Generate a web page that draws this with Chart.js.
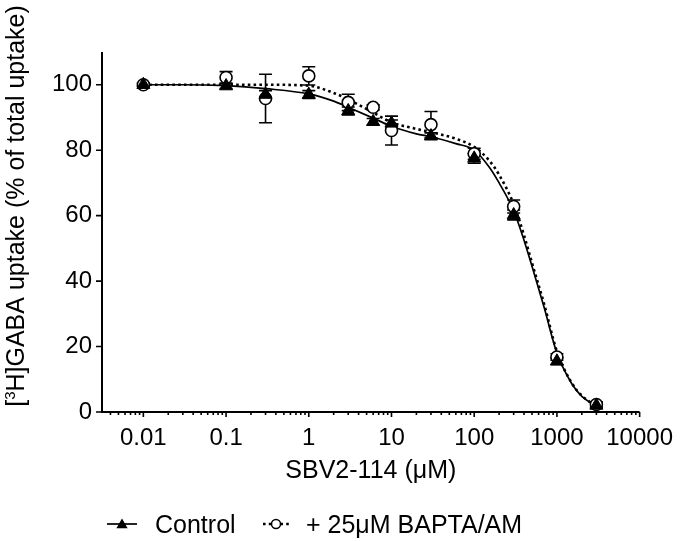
<!DOCTYPE html>
<html>
<head>
<meta charset="utf-8">
<script src="https://cdn.jsdelivr.net/npm/chart.js@4/dist/chart.umd.min.js"></script>
<style>
html,body{margin:0;padding:0;background:#fff;}
#c{display:block;}
</style>
</head>
<body>
<canvas id="c" width="685" height="541"></canvas>
<script>
// ---- data ----
const concentrations = [0.01, 0.1, 0.3, 1, 3, 6, 10, 30, 100, 300, 1000, 3000];
const controlMean = [100, 99.6, 97, 97, 92, 88.7, 88.2, 84.3, 77.5, 60.2, 15.5, 2];
const controlSem  = [0.5, 0.8, 1.2, 1.2, 1.2, 1, 1, 1, 1.5, 1.5, 1, 0.8];
const baptaMean = [100, 102.2, 95.8, 102.7, 94.6, 93.1, 86, 87.8, 78.9, 62.8, 16.8, 2.3];
const baptaSem  = [0.5, 1.8, 7.4, 2.8, 2.5, 0.8, 4.4, 4, 1.7, 2, 1, 0.8];

// fitted curves
const fitX       = [0.01, 0.03, 0.1, 0.3, 1, 2, 3, 6, 10, 20, 30, 60, 100, 150, 200, 300, 400, 500, 700, 1000, 1500, 2000, 3000];
const controlFit = [100, 100, 99.7, 98.8, 97.2, 95, 93.1, 89.8, 87.3, 85, 84.1, 82, 80, 75, 70, 61.5, 52.5, 44.5, 32, 18, 8.8, 4.8, 1.8];
const baptaFit   = [100, 100, 100, 100, 99.7, 97.5, 95.5, 91.5, 88.5, 86.5, 85.5, 83.5, 81, 77, 72.5, 63.5, 54, 45.5, 33, 18.5, 9, 5, 1.8];

const xTicks = [0.01, 0.1, 1, 10, 100, 1000, 10000];
const xTickLabels = ['0.01', '0.1', '1', '10', '100', '1000', '10000'];
const yTicks = [0, 20, 40, 60, 80, 100];
const yTickLabels = ['0', '20', '40', '60', '80', '100'];

const seriesNames = ['Control', '+ 25\u03BCM BAPTA/AM'];
const xTitle = 'SBV2-114 (\u03BCM)';
const yTitleParts = ['[', '3', 'H]GABA uptake (% of total uptake)'];

// ---- styling ----
const FONT = "'Liberation Sans', Arial, Helvetica, sans-serif";
Chart.defaults.font.family = FONT;
Chart.defaults.color = '#000';

const pts = (xs, ys) => xs.map((x, i) => ({x: x, y: ys[i]}));

const customPlugin = {
  id: 'custom',
  beforeDatasetsDraw(chart) {
    const ctx = chart.ctx, xs = chart.scales.x, ys = chart.scales.y;
    ctx.save();
    ctx.strokeStyle = '#000';
    ctx.lineWidth = 1.6;
    const series = [[baptaMean, baptaSem], [controlMean, controlSem]];
    series.forEach(([m, s]) => {
      concentrations.forEach((c, i) => {
        const px = xs.getPixelForValue(c);
        const top = ys.getPixelForValue(m[i] + s[i]);
        const bot = ys.getPixelForValue(Math.max(0, m[i] - s[i]));
        ctx.beginPath();
        ctx.moveTo(px, top); ctx.lineTo(px, bot);
        ctx.moveTo(px - 6.5, top); ctx.lineTo(px + 6.5, top);
        ctx.moveTo(px - 6.5, bot); ctx.lineTo(px + 6.5, bot);
        ctx.stroke();
      });
    });
    ctx.restore();
  },
  afterDraw(chart) {
    const ctx = chart.ctx, xs = chart.scales.x, ys = chart.scales.y;
    const a = chart.chartArea;
    ctx.save();
    ctx.strokeStyle = '#000';
    ctx.fillStyle = '#000';
    // axes
    ctx.lineWidth = 2;
    ctx.beginPath();
    ctx.moveTo(a.left, a.top); ctx.lineTo(a.left, a.bottom + 1);
    ctx.moveTo(a.left - 1, a.bottom); ctx.lineTo(a.right, a.bottom);
    ctx.stroke();
    // y ticks
    ctx.lineWidth = 1.6;
    ctx.beginPath();
    yTicks.forEach(v => {
      const py = ys.getPixelForValue(v);
      ctx.moveTo(a.left - 6, py); ctx.lineTo(a.left, py);
    });
    ctx.stroke();
    // x ticks (major + minor)
    ctx.beginPath();
    for (let e = -3; e <= 4; e++) {
      for (let k = 1; k <= 9; k++) {
        const v = k * Math.pow(10, e);
        if (v < xs.min * 0.9999 || v > xs.max * 1.0001) continue;
        const px = xs.getPixelForValue(v);
        const len = k === 1 ? 5 : 3;
        ctx.moveTo(px, a.bottom); ctx.lineTo(px, a.bottom + len);
      }
    }
    ctx.stroke();

    // x title
    ctx.font = '25px ' + FONT;
    ctx.textAlign = 'center';
    ctx.textBaseline = 'alphabetic';
    ctx.fillText(xTitle, (a.left + a.right) / 2, 478);

    // y title with superscript
    ctx.save();
    ctx.translate(24, 206);
    ctx.rotate(-Math.PI / 2);
    ctx.textAlign = 'left';
    const big = '25px ' + FONT, small = '15px ' + FONT;
    ctx.font = big; const w0 = ctx.measureText(yTitleParts[0]).width;
    ctx.font = small; const w1 = ctx.measureText(yTitleParts[1]).width;
    ctx.font = big; const w2 = ctx.measureText(yTitleParts[2]).width;
    let x0 = -(w0 + w1 + w2) / 2;
    ctx.font = big; ctx.fillText(yTitleParts[0], x0, 0);
    ctx.font = small; ctx.fillText(yTitleParts[1], x0 + w0, -9);
    ctx.font = big; ctx.fillText(yTitleParts[2], x0 + w0 + w1, 0);
    ctx.restore();

    // legend
    const ly = 524;
    ctx.lineWidth = 1.7;
    ctx.beginPath(); ctx.moveTo(107, ly); ctx.lineTo(137, ly); ctx.stroke();
    const r = 6.5, tx = 122, ty = ly + 1;
    ctx.beginPath();
    ctx.moveTo(tx, ty - r);
    ctx.lineTo(tx + r * Math.sin(2 * Math.PI / 3), ty - r * Math.cos(2 * Math.PI / 3));
    ctx.lineTo(tx + r * Math.sin(4 * Math.PI / 3), ty - r * Math.cos(4 * Math.PI / 3));
    ctx.closePath(); ctx.fill();
    ctx.font = '25px ' + FONT;
    ctx.textAlign = 'left';
    ctx.fillText(seriesNames[0], 155, 533);
    ctx.save();
    ctx.lineWidth = 2.6; ctx.setLineDash([2.6, 3.2]);
    ctx.beginPath(); ctx.moveTo(263, ly); ctx.lineTo(289, ly); ctx.stroke();
    ctx.restore();
    ctx.beginPath(); ctx.arc(276, ly, 4.5, 0, Math.PI * 2);
    ctx.fillStyle = '#fff'; ctx.fill();
    ctx.lineWidth = 1.5; ctx.stroke();
    ctx.fillStyle = '#000';
    ctx.fillText(seriesNames[1], 306, 533);
    ctx.restore();
  }
};

new Chart(document.getElementById('c'), {
  type: 'scatter',
  data: {
    datasets: [
      {label: seriesNames[0], data: pts(concentrations, controlMean), pointStyle: 'triangle', pointRadius: 7.5,
       backgroundColor: '#000', borderColor: '#000', pointBorderWidth: 1, showLine: false, order: 0},
      {label: seriesNames[1], data: pts(concentrations, baptaMean), pointStyle: 'circle', pointRadius: 6,
       backgroundColor: '#fff', borderColor: '#000', pointBorderWidth: 1.6, showLine: false, order: 1},
      {label: 'Control fit', data: pts(fitX, controlFit), showLine: true, pointRadius: 0, borderColor: '#000',
       borderWidth: 1.7, cubicInterpolationMode: 'monotone', order: 2},
      {label: 'BAPTA fit', data: pts(fitX, baptaFit), showLine: true, pointRadius: 0, borderColor: '#000',
       borderWidth: 2.6, borderDash: [2.6, 3.2], cubicInterpolationMode: 'monotone', order: 3}
    ]
  },
  options: {
    responsive: false,
    devicePixelRatio: 1,
    animation: false,
    layout: {padding: {top: 52, right: 37, left: 0, bottom: 0}},
    plugins: {legend: {display: false}, tooltip: {enabled: false}},
    scales: {
      x: {
        type: 'logarithmic', min: Math.pow(10, -2.5), max: 10000,
        grid: {display: false, drawTicks: false}, border: {display: false},
        afterBuildTicks: s => { s.ticks = xTicks.map(v => ({value: v})); },
        afterFit: s => { s.height = 129; },
        ticks: {autoSkip: false, maxRotation: 0, minRotation: 0, padding: 12, color: '#000',
                font: {size: 24},
                callback: v => { const i = xTicks.indexOf(v); return i >= 0 ? xTickLabels[i] : ''; }}
      },
      y: {
        type: 'linear', min: 0, max: 110,
        grid: {display: false, drawTicks: false}, border: {display: false},
        afterBuildTicks: s => { s.ticks = yTicks.map(v => ({value: v})); },
        afterFit: s => { s.width = 102; },
        ticks: {padding: 10, color: '#000', font: {size: 24},
                callback: v => { const i = yTicks.indexOf(v); return i >= 0 ? yTickLabels[i] : ''; }}
      }
    }
  },
  plugins: [customPlugin]
});
</script>
</body>
</html>
